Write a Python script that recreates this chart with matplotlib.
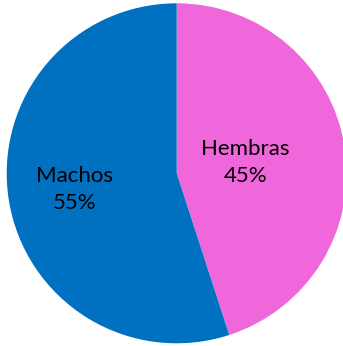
import numpy as np
import matplotlib.pyplot as plt

# sex ratio of the sample
labels = ["Hembras", "Machos"]
shares = [45, 55]
colors = ["#F067DC", "#0070C0"]

fig = plt.figure(figsize=(3.43, 3.46), dpi=100)
ax = fig.add_axes([0, 0, 1, 1])

wedges, _ = ax.pie(shares, colors=colors, startangle=90, counterclock=False,
                   radius=1, wedgeprops=dict(linewidth=0))

# label distance from the centre for each slice
dists = [0.41, 0.61]
for w, lab, val, d in zip(wedges, labels, shares, dists):
    mid = np.deg2rad((w.theta1 + w.theta2) / 2)
    ax.text(d * np.cos(mid), d * np.sin(mid), f"{lab}\n{val}%",
            ha="center", va="center", fontsize=16, family="Lato",
            linespacing=1.4, color="black")

# place the pie inside the canvas
cx, cy, r = 176.7, 173.3, 170.0
ax.set_xlim(-cx / r, (343 - cx) / r)
ax.set_ylim(-(346 - cy) / r, cy / r)
ax.set_aspect("auto")
ax.axis("off")

fig.savefig("out.png", dpi=100)
